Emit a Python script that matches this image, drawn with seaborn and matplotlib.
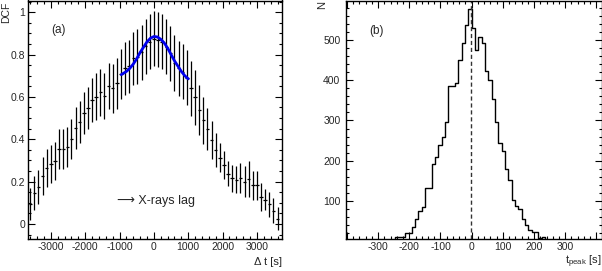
import numpy as np
import pandas as pd
import matplotlib
matplotlib.use('Agg')
import matplotlib.pyplot as plt
import seaborn as sns
from matplotlib.ticker import MultipleLocator

# (a) discrete correlation function, 120 s bins
lag = np.arange(-3600, 3601, 120)
dcf = [0.094, 0.146, 0.174, 0.228, 0.264, 0.282, 0.297, 0.354, 0.354, 0.365,
       0.402, 0.453, 0.480, 0.525, 0.546, 0.585, 0.601, 0.621, 0.605, 0.651,
       0.640, 0.664, 0.708, 0.734, 0.745, 0.782, 0.790, 0.810, 0.840, 0.860,
       0.875, 0.870, 0.860, 0.836, 0.805, 0.760, 0.734, 0.718, 0.690, 0.640,
       0.599, 0.538, 0.489, 0.447, 0.395, 0.348, 0.313, 0.278, 0.237, 0.216,
       0.209, 0.216, 0.200, 0.211, 0.182, 0.182, 0.126, 0.115, 0.093, 0.063,
       0.025]
dcf_err = [0.075, 0.080, 0.080, 0.090, 0.090, 0.090, 0.090, 0.095, 0.095, 0.095,
           0.095, 0.100, 0.100, 0.100, 0.100, 0.105, 0.110, 0.110, 0.110, 0.110,
           0.115, 0.120, 0.120, 0.125, 0.125, 0.125, 0.130, 0.130, 0.130, 0.130,
           0.130, 0.130, 0.130, 0.130, 0.130, 0.130, 0.130, 0.130, 0.130, 0.130,
           0.130, 0.120, 0.110, 0.100, 0.090, 0.080, 0.070, 0.067, 0.060, 0.063,
           0.063, 0.070, 0.075, 0.085, 0.070, 0.067, 0.067, 0.050, 0.060, 0.060,
           0.055]

# gaussian fit around zero lag
fit_t = [-950, -900, -800, -700, -600, -500, -400, -300, -200, -100, 0,
         100, 200, 300, 400, 500, 600, 700, 800, 900, 1000]
fit_dcf = [0.705, 0.710, 0.720, 0.735, 0.755, 0.780, 0.810, 0.835, 0.860, 0.877, 0.885,
           0.883, 0.872, 0.855, 0.830, 0.800, 0.770, 0.745, 0.720, 0.700, 0.685]

# (b) distribution of peak times
edges = np.linspace(-416, 416, 79)
counts = [0, 0, 0, 0, 0, 0, 0, 0, 0, 0,
          1, 1, 2, 2, 3, 4, 10, 10, 10, 21,
          21, 36, 55, 75, 86, 132, 132, 191, 210, 239,
          258, 295, 386, 386, 393, 451, 492, 538, 577, 530,
          474, 507, 492, 424, 401, 353, 295, 245, 224, 179,
          152, 102, 88, 79, 54, 40, 28, 24, 24, 9,
          10, 3, 2, 1, 0, 0, 0, 0, 0, 0,
          0, 0, 0, 0, 0, 0, 0, 0]
peak_mean = -3

sns.set_style('ticks')
plt.rcParams['font.family'] = ['Liberation Sans', 'DejaVu Sans']
plt.rcParams['axes.unicode_minus'] = False
plt.rcParams['mathtext.fontset'] = 'custom'
plt.rcParams['mathtext.rm'] = 'Liberation Sans'

fig = plt.figure(figsize=(6.02, 2.71), dpi=100)
ax1 = fig.add_axes([27.5 / 602, 32 / 271, 254.5 / 602, 238.5 / 271])
ax2 = fig.add_axes([346 / 602, 32 / 271, 255.7 / 602, 238.5 / 271])

ax1.errorbar(lag, dcf, yerr=dcf_err, xerr=50, fmt='none', ecolor='black',
             elinewidth=0.9, capsize=0)
sns.lineplot(x=fit_t, y=fit_dcf, ax=ax1, color='#0000ee', lw=2)
ax1.set_xlim(-3680, 3730)
ax1.set_ylim(-0.071, 1.055)
ax1.xaxis.set_major_locator(MultipleLocator(1000))
ax1.xaxis.set_minor_locator(MultipleLocator(200))
ax1.set_yticks([0, 0.2, 0.4, 0.6, 0.8, 1.0])
ax1.set_yticklabels(['0', '0.2', '0.4', '0.6', '0.8', '1'])
ax1.yaxis.set_minor_locator(MultipleLocator(0.05))
ax1.text(-3000, 0.915, '(a)', fontsize=8.5, va='center')
ax1.text(-1080, 0.11, '⟶ X-rays lag', fontsize=9, va='center')
ax1.set_xlabel('Δ t [s]', loc='right', fontsize=8)
ax1.xaxis.set_label_coords(1.0, -0.075)
ax1.set_ylabel('DCF', loc='top', fontsize=7.5)
ax1.yaxis.set_label_coords(-0.066, 0.996)

hist_df = pd.DataFrame({'t': (edges[:-1] + edges[1:]) / 2, 'n': counts})
sns.histplot(data=hist_df, x='t', weights='n', bins=list(edges), element='step',
             fill=False, color='black', lw=1, ax=ax2)
ax2.axvline(peak_mean, color='#333333', ls=(0, (3, 2)), lw=1)
ax2.set_xlim(-403, 417)
ax2.set_ylim(5.5, 598)
ax2.set_xticks(range(-400, 401, 100))
ax2.set_xticklabels(['', '-300', '-200', '-100', '0', '100', '200', '300', ''])
ax2.xaxis.set_minor_locator(MultipleLocator(20))
ax2.set_yticks([100, 200, 300, 400, 500])
ax2.yaxis.set_minor_locator(MultipleLocator(20))
ax2.text(-328, 521, '(b)', fontsize=8.5, va='center')
ax2.set_xlabel(r'$\mathregular{t_{peak}}$ [s]', loc='right', fontsize=8)
ax2.xaxis.set_label_coords(1.0, -0.062)
ax2.set_ylabel('N', loc='top', fontsize=8)
ax2.yaxis.set_label_coords(-0.074, 0.998)

for ax in (ax1, ax2):
    ax.tick_params(which='both', direction='in', top=True, right=True,
                   labelsize=7.5, width=0.8, color='black')
    ax.tick_params(which='major', length=5)
    ax.tick_params(which='minor', length=2.5)
    ax.tick_params(axis='x', pad=2)
    for s in ax.spines.values():
        s.set_linewidth(1)
        s.set_color('black')
ax1.tick_params(axis='y', pad=1.5)
ax2.tick_params(axis='y', pad=4)

fig.savefig('out.png', dpi=100)
